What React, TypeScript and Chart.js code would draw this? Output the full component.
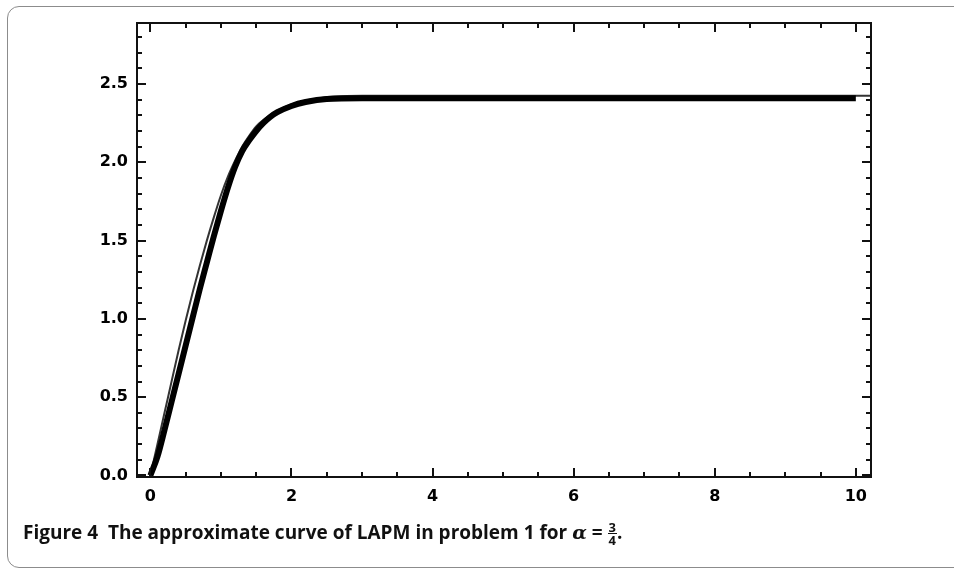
import React, { useEffect, useRef } from "react";
import { Chart, registerables } from "chart.js";

Chart.register(...registerables);

// Exact solution (thin line)
const exactX = [0, 0.1, 0.2, 0.3, 0.4, 0.5, 0.6, 0.7, 0.8, 0.9, 1.0, 1.1, 1.2, 1.3, 1.4, 1.5, 1.6, 1.8, 2.0, 2.2, 2.4, 2.6, 3, 4, 5, 6, 7, 8, 9, 10, 10.22];
const exactY = [0, 0.2, 0.4, 0.6, 0.8, 0.99, 1.17, 1.34, 1.5, 1.65, 1.79, 1.91, 2.01, 2.1, 2.17, 2.23, 2.27, 2.33, 2.37, 2.395, 2.41, 2.42, 2.425, 2.425, 2.425, 2.425, 2.425, 2.425, 2.425, 2.425, 2.425];

// LAPM approximation (thick marker curve)
const approxX = [0, 0.1, 0.2, 0.3, 0.4, 0.5, 0.6, 0.7, 0.8, 0.9, 1.0, 1.1, 1.2, 1.3, 1.4, 1.5, 1.6, 1.7, 1.8, 2.0, 2.2, 2.5, 3, 4, 5, 6, 7, 8, 9, 10];
const approxY = [0, 0.12, 0.29, 0.47, 0.65, 0.83, 1.01, 1.19, 1.36, 1.53, 1.69, 1.84, 1.97, 2.07, 2.14, 2.2, 2.25, 2.29, 2.32, 2.36, 2.385, 2.405, 2.41, 2.41, 2.41, 2.41, 2.41, 2.41, 2.41, 2.41];

const xLabelTicks = [0, 2, 4, 6, 8, 10];
const yLabelTicks = [0, 0.5, 1.0, 1.5, 2.0, 2.5];
const xTickMarks = [0, 0.5, 1, 1.5, 2, 2.5, 3, 3.5, 4, 4.5, 5, 5.5, 6, 6.5, 7, 7.5, 8, 8.5, 9, 9.5, 10];
const yTickMarks = [0, 0.1, 0.2, 0.3, 0.4, 0.5, 0.6, 0.7, 0.8, 0.9, 1.0, 1.1, 1.2, 1.3, 1.4, 1.5, 1.6, 1.7, 1.8, 1.9, 2.0, 2.1, 2.2, 2.3, 2.4, 2.5, 2.6, 2.7, 2.8];

const framePlugin = {
  id: "mmaFrame",
  afterDraw(chart: any) {
    const { ctx, chartArea, scales } = chart;
    const { left, right, top, bottom } = chartArea;
    const xs = scales.x;
    const ys = scales.y;
    ctx.save();
    ctx.strokeStyle = "#111";
    ctx.lineWidth = 2;
    ctx.strokeRect(left, top, right - left, bottom - top);
    ctx.beginPath();
    for (const v of xTickMarks) {
      const px = Math.round(xs.getPixelForValue(v));
      const major = Math.abs(v % 2) < 1e-9;
      const len = major ? 9 : 5;
      ctx.moveTo(px, bottom);
      ctx.lineTo(px, bottom - len);
      ctx.moveTo(px, top);
      ctx.lineTo(px, top + len);
    }
    for (const v of yTickMarks) {
      const py = Math.round(ys.getPixelForValue(v));
      const major = Math.abs(Math.round(v * 10) % 5) === 0;
      const len = major ? 9 : 5;
      ctx.moveTo(left, py);
      ctx.lineTo(left + len, py);
      ctx.moveTo(right, py);
      ctx.lineTo(right - len, py);
    }
    ctx.stroke();
    ctx.restore();
  },
};

export default function App() {
  const ref = useRef<HTMLCanvasElement | null>(null);

  useEffect(() => {
    if (!ref.current) return;
    const tickFont = { family: "'DejaVu Sans'", size: 16, weight: "bold" as const };
    const chart = new Chart(ref.current, {
      type: "line",
      data: {
        datasets: [
          {
            label: "LAPM",
            data: approxX.map((x, i) => ({ x, y: approxY[i] })),
            borderColor: "#000",
            borderWidth: 6,
            pointRadius: 0,
            cubicInterpolationMode: "monotone",
          },
          {
            label: "Exact",
            data: exactX.map((x, i) => ({ x, y: exactY[i] })),
            borderColor: "#333",
            borderWidth: 2,
            pointRadius: 0,
            cubicInterpolationMode: "monotone",
          },
        ],
      },
      options: {
        responsive: false,
        animation: false,
        devicePixelRatio: 1,
        layout: { padding: { top: 23, right: 83, left: 0, bottom: 0 } },
        plugins: { legend: { display: false }, tooltip: { enabled: false } },
        scales: {
          x: {
            type: "linear",
            min: -0.19,
            max: 10.215,
            grid: { display: false, drawTicks: false },
            border: { display: false },
            afterBuildTicks: (s: any) => {
              s.ticks = xLabelTicks.map((v) => ({ value: v }));
            },
            afterFit: (s: any) => {
              s.height = 43;
            },
            ticks: {
              color: "#000",
              font: tickFont,
              padding: 10,
              maxRotation: 0,
              autoSkip: false,
              callback: (v: any) => String(v),
            },
          },
          y: {
            type: "linear",
            min: -0.01,
            max: 2.89,
            grid: { display: false, drawTicks: false },
            border: { display: false },
            afterBuildTicks: (s: any) => {
              s.ticks = yLabelTicks.map((v) => ({ value: v }));
            },
            afterFit: (s: any) => {
              s.width = 137;
            },
            ticks: {
              color: "#000",
              font: tickFont,
              padding: 9,
              autoSkip: false,
              callback: (v: any) => Number(v).toFixed(1),
            },
          },
        },
      },
      plugins: [framePlugin],
    });
    return () => chart.destroy();
  }, []);

  return (
    <div style={{ position: "absolute", left: 0, top: 0, width: 954, height: 570, overflow: "hidden", background: "#fff" }}>
      <div
        style={{
          position: "absolute",
          left: 7,
          top: 6,
          width: 980,
          height: 562,
          border: "1px solid #8c8c8c",
          borderRadius: 12,
          boxSizing: "border-box",
        }}
      />
      <canvas ref={ref} width={954} height={520} style={{ position: "absolute", left: 0, top: 0, width: 954, height: 520 }} />
      <div
        style={{
          position: "absolute",
          left: 23,
          top: 519,
          fontFamily: "'Open Sans', sans-serif",
          fontWeight: 700,
          fontSize: 19,
          color: "#111",
          whiteSpace: "pre",
          lineHeight: "26px",
        }}
      >
        {"Figure 4  The approximate curve of LAPM in problem 1 for "}
        <span style={{ fontStyle: "italic", fontFamily: "'DejaVu Serif', serif", fontWeight: 700 }}>α</span>
        {" = "}
        <span style={{ display: "inline-block", verticalAlign: "middle", textAlign: "center", fontSize: 13, lineHeight: "12px" }}>
          <span style={{ display: "block", borderBottom: "1.5px solid #111", padding: "0 1px" }}>3</span>
          <span style={{ display: "block" }}>4</span>
        </span>
        {"."}
      </div>
    </div>
  );
}
